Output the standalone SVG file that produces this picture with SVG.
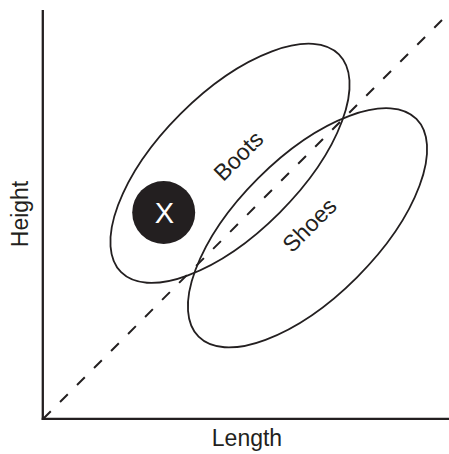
<svg xmlns="http://www.w3.org/2000/svg" width="449" height="454" viewBox="0 0 449 454">
<style>
.ax{stroke:#231f20;stroke-width:2.3;fill:none}
.ell{stroke:#231f20;stroke-width:1.8;fill:none}
.dash{stroke:#231f20;stroke-width:2;stroke-dasharray:11 13.06;fill:none}
.lbl{font-family:"Liberation Sans",Arial,sans-serif;font-size:23px;fill:#231f20;text-anchor:middle}
</style>
<rect width="449" height="454" fill="#ffffff"/>
<g id="axes">
<line class="ax" x1="42.8" y1="10" x2="42.8" y2="420"/>
<line class="ax" x1="41.7" y1="418.8" x2="449" y2="418.8"/>
<text class="lbl" x="247" y="446">Length</text>
<text class="lbl" transform="translate(28,214) rotate(-90)">Height</text>
</g>
<g id="connectors">
<line class="dash" x1="43" y1="419" x2="442" y2="20"/>
</g>
<g id="boots">
<ellipse class="ell" cx="230" cy="163.3" rx="154" ry="70" transform="rotate(-45 230 163.3)"/>
<text class="lbl" transform="translate(244,161.5) rotate(-45)">Boots</text>
</g>
<g id="shoes">
<ellipse class="ell" cx="307.5" cy="227.8" rx="154" ry="70" transform="rotate(-45 307.5 227.8)"/>
<text class="lbl" transform="translate(315,230.7) rotate(-45)">Shoes</text>
</g>
<g id="x">
<circle cx="163.7" cy="212.5" r="31.5" fill="#231f20"/>
<text x="164.5" y="222.5" style="font-family:'Liberation Sans',Arial,sans-serif;font-size:29px;fill:#ffffff;text-anchor:middle">X</text>
</g>
</svg>
